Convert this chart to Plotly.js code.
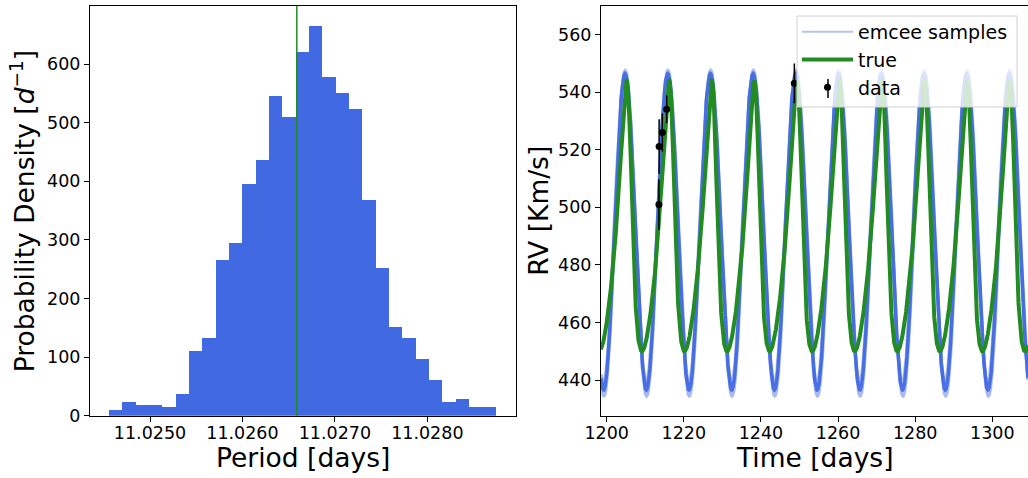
<!DOCTYPE html>
<html>
<head>
<meta charset="utf-8">
<script src="https://cdn.plot.ly/plotly-3.0.1.min.js"></script>
<style>html,body{margin:0;padding:0;background:#fff;}#chart{width:1028px;height:478px;}</style>
</head>
<body>
<div id="chart"></div>
<script>
// ---------- Histogram of period posterior ----------
const periodBinStart = 11.024556;      // left edge of first bin [days]
const periodBinWidth = 0.00014424;     // bin width [days]
const periodDensity = [10, 23, 18, 18, 14, 37, 110, 133, 266, 294, 395, 436, 546, 509, 620,
                       665, 578, 550, 523, 368, 252, 151, 133, 97, 61, 23, 28, 14, 14];
const periodTrue = 11.026588;
const periodTickVals = [11.025, 11.026, 11.027, 11.028];
const periodTickText = ['11.0250', '11.0260', '11.0270', '11.0280'];
const densityTickVals = [0, 100, 200, 300, 400, 500, 600];

// ---------- RV model parameters (true orbit) ----------
const trueP = 11.035, trueTp = 1205.916, trueE = 0.31, trueW = Math.PI / 4, trueK = 47, trueGamma = 486.7;
// ---------- emcee sample orbits ----------
const sampleP = [11.066, 11.072, 11.078];
const sampleTp = [1207.47, 1207.52, 1207.57];
const sampleE = [0.0, 0.0, 0.0];
const sampleK = [53.5, 55.0, 56.5];
const sampleGamma = [492.0, 491.5, 491.0];
const sampleOpacity = [0.45, 0.9, 0.45];

// ---------- RV data ----------
const dataTime = [1213.55, 1213.60, 1214.43, 1215.56, 1248.66];
const dataRV = [501.0, 521.1, 526.0, 534.1, 543.1];
const dataErr = [8.8, 9.5, 6.6, 4.8, 6.9];
const timeTickVals = [1200, 1220, 1240, 1260, 1280, 1300];
const rvTickVals = [440, 460, 480, 500, 520, 540, 560];

const timeRange = [1198.53, 1309.25];

function keplerRV(t, P, tp, e, w, K, gamma) {
  let M = 2 * Math.PI * (t - tp) / P;
  M = M - 2 * Math.PI * Math.floor(M / (2 * Math.PI));
  let E = M;
  for (let i = 0; i < 40; i++) {
    E = E - (E - e * Math.sin(E) - M) / (1 - e * Math.cos(E));
  }
  const nu = 2 * Math.atan2(Math.sqrt(1 + e) * Math.sin(E / 2), Math.sqrt(1 - e) * Math.cos(E / 2));
  return gamma + K * (Math.cos(nu + w) + e * Math.cos(w));
}

const tGrid = [];
for (let t = timeRange[0]; t <= timeRange[1] + 1e-9; t += 0.02) tGrid.push(t);

const binCenters = periodDensity.map((_, i) => periodBinStart + (i + 0.5) * periodBinWidth);

const traces = [];
traces.push({
  type: 'bar', x: binCenters, y: periodDensity, width: periodBinWidth,
  marker: {color: '#4169E1', line: {width: 0}}, xaxis: 'x', yaxis: 'y', showlegend: false, hoverinfo: 'x+y'
});
traces.push({
  type: 'scatter', mode: 'lines', x: [periodTrue, periodTrue], y: [0, 699],
  line: {color: '#228B22', width: 1.5}, xaxis: 'x', yaxis: 'y', showlegend: false
});

// legend-only entry for samples
traces.push({
  type: 'scatter', mode: 'lines', x: [null], y: [null], name: 'emcee samples',
  line: {color: 'rgba(65,105,225,0.4)', width: 2}, xaxis: 'x2', yaxis: 'y2'
});
for (let s = 0; s < sampleK.length; s++) {
  traces.push({
    type: 'scatter', mode: 'lines', x: tGrid,
    y: tGrid.map(t => keplerRV(t, sampleP[s], sampleTp[s], sampleE[s], Math.PI / 2, sampleK[s], sampleGamma[s])),
    line: {color: '#4169E1', width: 3.5}, opacity: sampleOpacity[s], xaxis: 'x2', yaxis: 'y2', showlegend: false, hoverinfo: 'skip'
  });
}
traces.push({
  type: 'scatter', mode: 'lines', x: tGrid,
  y: tGrid.map(t => keplerRV(t, trueP, trueTp, trueE, trueW, trueK, trueGamma)),
  name: 'true', line: {color: '#228B22', width: 4}, xaxis: 'x2', yaxis: 'y2'
});
traces.push({
  type: 'scatter', mode: 'markers', x: dataTime, y: dataRV, name: 'data',
  marker: {color: '#000', size: 7},
  error_y: {type: 'data', array: dataErr, visible: true, color: '#000', thickness: 1.5, width: 0},
  xaxis: 'x2', yaxis: 'y2'
});

const W = 1028, H = 478;
const axisCommon = {
  showgrid: false, zeroline: false, showline: true, linecolor: '#000', linewidth: 1,
  ticks: 'outside', ticklen: 5, tickwidth: 1, tickcolor: '#000',
  tickfont: {family: 'DejaVu Sans', size: 17.5, color: '#000'}
};
const yDom = [1 - 415.7 / H, 1 - 6 / H];

const layout = {
  width: W, height: H,
  margin: {l: 0, r: 0, t: 0, b: 0, pad: 0},
  paper_bgcolor: '#fff', plot_bgcolor: '#fff',
  font: {family: 'DejaVu Sans', color: '#000'},
  bargap: 0,
  xaxis: Object.assign({}, axisCommon, {
    domain: [90 / W, 516 / W], range: [11.024351, 11.028959], mirror: true,
    tickvals: periodTickVals, ticktext: periodTickText, anchor: 'y', ticklabelstandoff: -4
  }),
  yaxis: Object.assign({}, axisCommon, {
    domain: yDom, range: [0, 699], mirror: true, tickvals: densityTickVals, anchor: 'x'
  }),
  xaxis2: Object.assign({}, axisCommon, {
    domain: [601 / W, 1], range: timeRange, mirror: true, tickvals: timeTickVals, anchor: 'y2', ticklabelstandoff: -4
  }),
  yaxis2: Object.assign({}, axisCommon, {
    domain: yDom, range: [427.6, 569.96], mirror: false, tickvals: rvTickVals, anchor: 'x2'
  }),
  showlegend: true,
  legend: {
    x: 797 / W, y: 1 - 13 / H, xanchor: 'left', yanchor: 'top', itemwidth: 51,
    bgcolor: 'rgba(0,0,0,0)', borderwidth: 0,
    font: {family: 'DejaVu Sans', size: 19, color: '#000'}
  },
  shapes: [
    {type: 'rect', xref: 'paper', yref: 'paper', x0: 797 / W, x1: 1017 / W, y0: 1 - 107 / H, y1: 1 - 16 / H,
     fillcolor: 'rgba(255,255,255,0.8)', line: {color: '#d0d0d0', width: 1}, layer: 'above'},
    {type: 'line', xref: 'paper', yref: 'paper', x0: 828 / W, x1: 828 / W, y0: 1 - 79 / H, y1: 1 - 98 / H,
     line: {color: '#000', width: 1.5}, layer: 'above'}
  ],
  annotations: [
    {text: 'Probability Density [<i>d</i><sup>−1</sup>]', xref: 'paper', yref: 'paper',
     x: 22.5 / W, y: 1 - 210.85 / H, xanchor: 'center', yanchor: 'middle', textangle: -90,
     showarrow: false, font: {family: 'DejaVu Sans', size: 26.5, color: '#000'}},
    {text: 'RV [Km/s]', xref: 'paper', yref: 'paper',
     x: 539 / W, y: 1 - 210.85 / H, xanchor: 'center', yanchor: 'middle', textangle: -90,
     showarrow: false, font: {family: 'DejaVu Sans', size: 26.5, color: '#000'}},
    {text: 'Period [days]', xref: 'paper', yref: 'paper',
     x: 303 / W, y: 1 - 457 / H, xanchor: 'center', yanchor: 'middle',
     showarrow: false, font: {family: 'DejaVu Sans', size: 26.5, color: '#000'}},
    {text: 'Time [days]', xref: 'paper', yref: 'paper',
     x: 814.5 / W, y: 1 - 457 / H, xanchor: 'center', yanchor: 'middle',
     showarrow: false, font: {family: 'DejaVu Sans', size: 26.5, color: '#000'}}
  ]
};

Plotly.newPlot('chart', traces, layout, {displayModeBar: false, staticPlot: true});
</script>
</body>
</html>
